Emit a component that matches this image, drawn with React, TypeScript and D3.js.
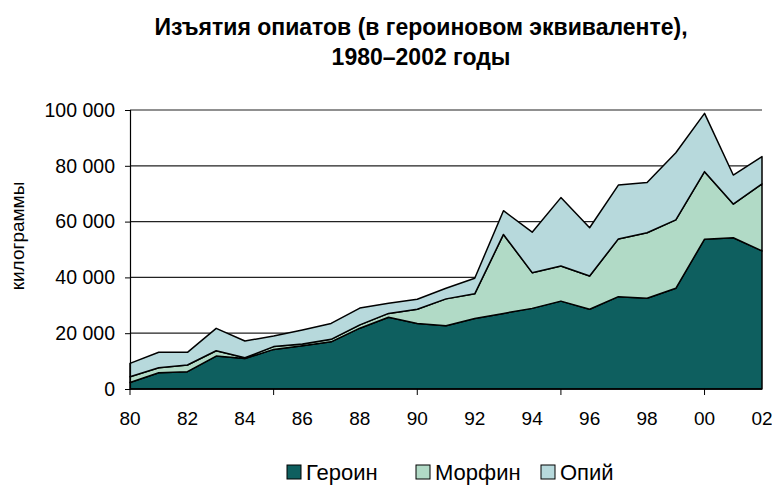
import React, { useEffect, useRef } from "react";
import * as d3 from "d3";

const years = [
  1980, 1981, 1982, 1983, 1984, 1985, 1986, 1987, 1988, 1989, 1990, 1991,
  1992, 1993, 1994, 1995, 1996, 1997, 1998, 1999, 2000, 2001, 2002,
];
const heroin = [
  2300, 5850, 6200, 11800, 10900, 14200, 15500, 16900, 21800, 25700, 23500,
  22700, 25300, 27100, 28900, 31500, 28600, 33100, 32500, 36100, 53700, 54200,
  49500,
];
const morphine = [
  2100, 1750, 2400, 1900, 300, 1000, 600, 900, 1200, 1400, 5100, 9600, 8800,
  28300, 12800, 12600, 11900, 20700, 23500, 24500, 24200, 12100, 24000,
];
const opium = [
  4800, 5550, 4550, 8050, 6000, 3800, 5050, 5700, 6000, 3600, 3550, 3800,
  5600, 8500, 14500, 24500, 17300, 19300, 18000, 24100, 20900, 10400, 9800,
];
const seriesNames = ["Героин", "Морфин", "Опий"];
const seriesColors = ["#0e5f5f", "#b1dac6", "#b7d9dc"];
const yTicks = [0, 20000, 40000, 60000, 80000, 100000];
const xLabelYears = [1980, 1982, 1984, 1986, 1988, 1990, 1992, 1994, 1996, 1998, 2000, 2002];
const xTickYears = [1980, 1985, 1990, 1995, 2000];

export default function App() {
  const svgRef = useRef<SVGSVGElement>(null);

  useEffect(() => {
    const svg = d3.select(svgRef.current);
    svg.selectAll("*").remove();
    const font = "'Liberation Sans', Arial, sans-serif";

    const x = d3.scaleLinear().domain([1980, 2002]).range([130, 762]);
    const y = d3.scaleLinear().domain([0, 100000]).range([389, 110]);

    const rows = years.map((yr, i) => ({
      year: yr,
      h: heroin[i],
      m: morphine[i],
      o: opium[i],
    }));
    const layers = d3.stack<any>().keys(["h", "m", "o"])(rows);

    // title
    const title = svg
      .append("text")
      .attr("text-anchor", "middle")
      .attr("font-family", font)
      .attr("font-weight", "bold")
      .attr("font-size", 23);
    title.append("tspan").attr("x", 421).attr("y", 35).text("Изъятия опиатов (в героиновом эквиваленте),");
    title.append("tspan").attr("x", 421).attr("y", 65).text("1980–2002 годы");

    // gridlines
    svg
      .append("g")
      .selectAll("line")
      .data(yTicks.filter((d) => d > 0))
      .join("line")
      .attr("x1", 130)
      .attr("x2", 762)
      .attr("y1", (d) => y(d))
      .attr("y2", (d) => y(d))
      .attr("stroke", "#222")
      .attr("stroke-width", 1.2);

    // areas
    const area = d3
      .area<any>()
      .x((d) => x(d.data.year))
      .y0((d) => y(d[0]))
      .y1((d) => y(d[1]));

    svg
      .append("g")
      .selectAll("path")
      .data(layers)
      .join("path")
      .attr("d", area as any)
      .attr("fill", (_, i) => seriesColors[i])
      .attr("stroke", "#000")
      .attr("stroke-width", 1.5)
      .attr("stroke-linejoin", "round");

    // y axis
    const fmt = (v: number) => d3.format(",")(v).replace(/,/g, " ");
    const yAxis = svg
      .append("g")
      .attr("transform", "translate(130,0)")
      .call(
        d3
          .axisLeft(y)
          .tickValues(yTicks)
          .tickSize(5)
          .tickPadding(10)
          .tickFormat((d) => fmt(d as number))
      );
    yAxis.select(".domain").attr("stroke", "#000").attr("stroke-width", 1.2);
    yAxis.selectAll(".tick line").attr("stroke", "#000");
    yAxis
      .selectAll(".tick text")
      .attr("font-family", font)
      .attr("font-size", 19.5)
      .attr("fill", "#000");

    // x axis
    const xAxis = svg.append("g").attr("transform", "translate(0,389)");
    xAxis
      .append("line")
      .attr("x1", 130)
      .attr("x2", 762)
      .attr("stroke", "#000")
      .attr("stroke-width", 1.5);
    xAxis
      .selectAll("line.tk")
      .data(xTickYears)
      .join("line")
      .attr("class", "tk")
      .attr("x1", (d) => x(d))
      .attr("x2", (d) => x(d))
      .attr("y1", 0)
      .attr("y2", 6)
      .attr("stroke", "#000");
    xAxis
      .selectAll("text")
      .data(xLabelYears)
      .join("text")
      .attr("x", (d) => x(d))
      .attr("y", 36)
      .attr("text-anchor", "middle")
      .attr("font-family", font)
      .attr("font-size", 19)
      .text((d) => String(d).slice(2));

    // y title
    svg
      .append("text")
      .attr("transform", "translate(24,236) rotate(-90)")
      .attr("text-anchor", "middle")
      .attr("font-family", font)
      .attr("font-size", 19)
      .text("килограммы");

    // legend
    const legendX = [287, 416, 541];
    const lg = svg
      .append("g")
      .selectAll("g")
      .data(seriesNames)
      .join("g")
      .attr("transform", (_, i) => `translate(${legendX[i]},465)`);
    lg.append("rect")
      .attr("width", 14)
      .attr("height", 14)
      .attr("fill", (_, i) => seriesColors[i])
      .attr("stroke", "#000")
      .attr("stroke-width", 1);
    lg.append("text")
      .attr("x", 19)
      .attr("y", 15)
      .attr("font-family", font)
      .attr("font-size", 22)
      .text((d) => d);
  }, []);

  return <svg ref={svgRef} width={772} height={489} style={{ position: "absolute", left: 0, top: 0 }} />;
}
